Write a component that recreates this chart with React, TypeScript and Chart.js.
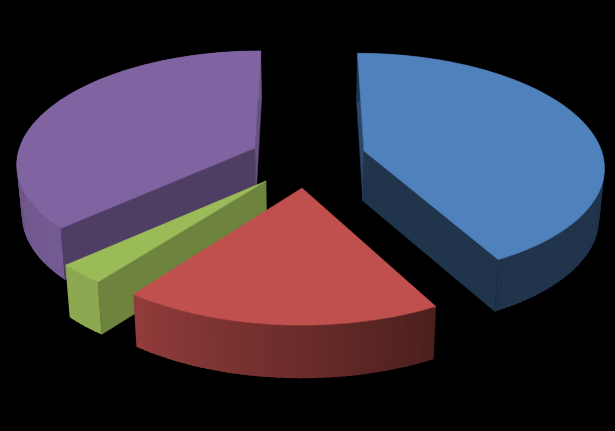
import React, { useEffect, useRef } from "react";
import { Chart, registerables } from "chart.js";

Chart.register(...registerables);

// Data (share of the whole pie)
const categories = ["Series A", "Series B", "Series C", "Series D"];
const seriesValues = [42.1, 18.2, 2.9, 36.8];

// Styles
const topColors = ["#4f81bd", "#c0504d", "#9bbb59", "#8064a2"];
const startWallShade = [0.55, 0.5, 0.7, 0.62];
const endWallShade = [0.4, 0.5, 0.9, 0.8];
// Explosion of each slice, in units of the pie radius
const explodeX = [0.2415, -0.016, -0.161, -0.213];
const explodeY = [0, 0.322, 0.264, -0.027];
const widthScale = [0.99, 1, 0.985, 0.985];
const depthScale = [1, 1, 0.97, 1];
const paintOrder = [3, 2, 1, 0];

// Camera
const camera = { cx: 306, ay: 151, rx: 240, ry: 110, dist: 8, height: 50, converge: 0.982 };

function shade(hex: string, k: number) {
  const n = parseInt(hex.slice(1), 16);
  const r = Math.round(((n >> 16) & 255) * k);
  const g = Math.round(((n >> 8) & 255) * k);
  const b = Math.round((n & 255) * k);
  return `rgb(${r},${g},${b})`;
}

function project(X: number, Y: number, low: boolean): [number, number] {
  const f = camera.dist / (camera.dist - Y);
  let sx = camera.cx + camera.rx * X * f;
  let sy = camera.ay + camera.ry * Y * f;
  if (low) {
    sy += camera.height * (1 + 0.3 * (f - 1));
    sx = camera.cx + (sx - camera.cx) * camera.converge;
  }
  return [sx, sy];
}

// Brightness of the outer wall for an angle measured clockwise from the top
function outerShade(deg: number) {
  if (deg <= 150) return 0.4;
  if (deg <= 217.2) return 0.38 + ((deg - 150) / 67) * 0.38;
  if (deg <= 230) return 0.9;
  return 0.9 - Math.min(1, (deg - 230) / 40) * 0.04;
}

function fillPoly(ctx: CanvasRenderingContext2D, pts: [number, number][], color: string, edge = true) {
  ctx.beginPath();
  pts.forEach((p, i) => (i ? ctx.lineTo(p[0], p[1]) : ctx.moveTo(p[0], p[1])));
  ctx.closePath();
  ctx.fillStyle = color;
  ctx.fill();
  if (edge) {
    ctx.strokeStyle = color;
    ctx.lineWidth = 0.5;
    ctx.stroke();
  }
}

const pie3d = {
  id: "pie3d",
  beforeDatasetDraw(chart: any) {
    const ctx: CanvasRenderingContext2D = chart.ctx;
    const arcs = chart.getDatasetMeta(0).data;
    ctx.save();
    for (const i of paintOrder) {
      const { startAngle, endAngle } = arcs[i];
      const cx = explodeX[i];
      const cy = explodeY[i];
      const col = topColors[i];
      const at = (a: number, low: boolean) =>
        project(cx + Math.cos(a) * widthScale[i], cy + Math.sin(a) * depthScale[i], low);
      const steps = Math.max(6, Math.ceil(((endAngle - startAngle) * 180) / Math.PI / 1.5));
      const angle = (k: number) => startAngle + ((endAngle - startAngle) * k) / steps;

      // radial walls first, and only the ones that face the viewer:
      // the start wall looks a quarter turn back, the end wall a quarter turn on
      const apexTop = project(cx, cy, false);
      const apexLow = project(cx, cy, true);
      if (Math.sin(startAngle - Math.PI / 2) > -0.05) {
        fillPoly(ctx, [apexTop, at(startAngle, false), at(startAngle, true), apexLow], shade(col, startWallShade[i]));
      }
      if (Math.sin(endAngle + Math.PI / 2) > -0.05) {
        fillPoly(ctx, [apexTop, at(endAngle, false), at(endAngle, true), apexLow], shade(col, endWallShade[i]));
      }

      // outer wall, each strip overlapping the next one so no seams show
      for (let k = 0; k < steps; k++) {
        const a0 = angle(k);
        const a1 = angle(Math.min(steps, k + 1.6));
        const deg = ((angle(k + 0.5) + Math.PI / 2) * 180) / Math.PI;
        fillPoly(ctx, [at(a0, false), at(a1, false), at(a1, true), at(a0, true)], shade(col, outerShade(deg)), false);
      }

      // top face
      const top: [number, number][] = [apexTop];
      for (let k = 0; k <= steps; k++) top.push(at(angle(k), false));
      fillPoly(ctx, top, col);
    }
    ctx.restore();
    return false;
  },
};

export default function App() {
  const ref = useRef<HTMLCanvasElement>(null);
  useEffect(() => {
    const chart = new Chart(ref.current!, {
      type: "pie",
      data: {
        labels: categories,
        datasets: [{ data: seriesValues, backgroundColor: topColors, borderWidth: 0 }],
      },
      options: {
        responsive: false,
        animation: false,
        events: [],
        plugins: { legend: { display: false }, tooltip: { enabled: false } },
      },
      plugins: [pie3d],
    } as any);
    return () => chart.destroy();
  }, []);
  return (
    <div style={{ position: "fixed", left: 0, top: 0, width: 615, height: 431, background: "#000", overflow: "hidden" }}>
      <canvas ref={ref} width={615} height={431} style={{ display: "block" }} />
    </div>
  );
}
